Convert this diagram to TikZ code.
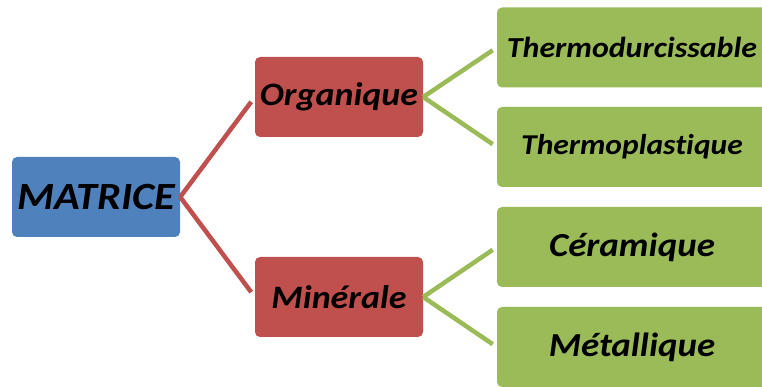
\documentclass[tikz,border=0pt]{standalone}
\usepackage{fontspec}
\setmainfont{Carlito}[FakeStretch=1.1, RawFeature=-liga]
\usepackage{tikz}

\definecolor{matblue}{HTML}{4F81BD}
\definecolor{matred}{HTML}{C0504D}
\definecolor{matgreen}{HTML}{9BBB59}

\tikzset{
  box/.style={rounded corners=5pt, inner sep=0pt, text=black,
    font=\bfseries\itshape, minimum height=80pt},
  rootbox/.style={box, fill=matblue, minimum width=168pt},
  midbox/.style={box, fill=matred, minimum width=168pt},
  leafbox/.style={box, fill=matgreen, minimum width=270pt},
  redlink/.style={draw=matred, line width=4.5pt, shorten >=6pt},
  greenlink/.style={draw=matgreen, line width=4.5pt, shorten >=5pt}
}

\begin{document}
\begin{tikzpicture}[x=1pt,y=1pt]
            \useasboundingbox (0,0) rectangle (762,387);
            % root
            \node[rootbox] (matrice) at (96,190) {\fontsize{38.5}{40}\selectfont MATRICE};
            % second level
            \node[midbox] (organique) at (339,290) {\fontsize{32.7}{34}\selectfont Organique};
            \node[midbox] (minerale) at (339,90) {\fontsize{32.7}{34}\selectfont Minérale};
            % leaves
            \node[leafbox] (thermodur) at (632,339.5) {\fontsize{29}{31}\selectfont Thermodurcissable};
            \node[leafbox] (thermoplast) at (632,240) {\fontsize{28.7}{31}\selectfont Thermoplastique};
            \node[leafbox] (ceramique) at (632,140) {\fontsize{33.6}{35}\selectfont Céramique};
            \node[leafbox] (metallique) at (632,40) {\fontsize{33.6}{35}\selectfont Métallique};
            % links
            \draw[redlink] (matrice.east) -- (organique.west);
            \draw[redlink] (matrice.east) -- (minerale.west);
            \draw[greenlink] (organique.east) -- (thermodur.west);
            \draw[greenlink] (organique.east) -- (thermoplast.west);
            \draw[greenlink] (minerale.east) -- (ceramique.west);
            \draw[greenlink] (minerale.east) -- (metallique.west);
        \end{tikzpicture}
\end{document}
